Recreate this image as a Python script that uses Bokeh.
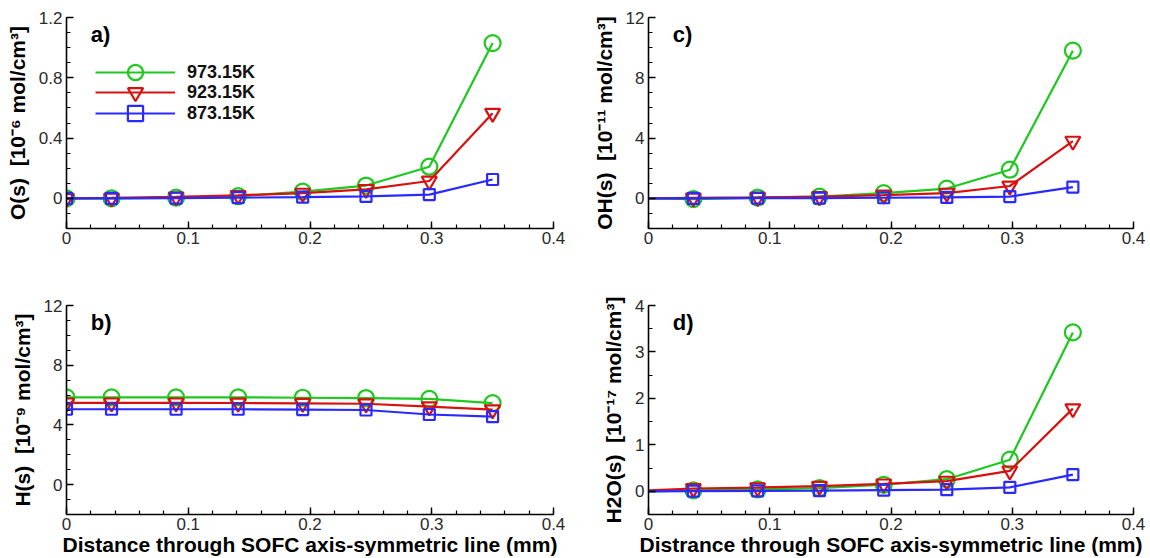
from bokeh.plotting import figure
from bokeh.layouts import column, row
from bokeh.models import FixedTicker, Legend, LegendItem, Label, Range1d
from bokeh.embed import file_html
from bokeh.resources import INLINE

# ---------------- data ----------------
x = [0, 0.037, 0.09, 0.141, 0.194, 0.246, 0.298, 0.35]
series_names = ["973.15K", "923.15K", "873.15K"]

o_973 = [0, 0, 0.005, 0.015, 0.045, 0.085, 0.21, 1.03]
o_923 = [0, 0.003, 0.01, 0.02, 0.035, 0.06, 0.115, 0.565]
o_873 = [0, 0, 0.002, 0.005, 0.008, 0.013, 0.025, 0.125]

oh_973 = [0, -0.05, 0.05, 0.12, 0.35, 0.65, 1.9, 9.8]
oh_923 = [0, 0.03, 0.07, 0.12, 0.22, 0.35, 0.82, 3.8]
oh_873 = [0, 0, 0.01, 0.02, 0.04, 0.06, 0.12, 0.75]

h_973 = [5.85, 5.85, 5.85, 5.85, 5.82, 5.8, 5.74, 5.46]
h_923 = [5.48, 5.48, 5.48, 5.47, 5.45, 5.42, 5.22, 5.02]
h_873 = [5.05, 5.05, 5.05, 5.05, 5.03, 5.0, 4.7, 4.55]

h2o_973 = [0, 0.02, 0.04, 0.07, 0.14, 0.26, 0.68, 3.42]
h2o_923 = [0.02, 0.06, 0.08, 0.11, 0.16, 0.22, 0.44, 1.78]
h2o_873 = [0, 0.005, 0.01, 0.015, 0.025, 0.035, 0.085, 0.36]

x_ticks = [0, 0.1, 0.2, 0.3, 0.4]
x_tick_labels = ["0", "0.1", "0.2", "0.3", "0.4"]
x_minor = [round(i * 0.02, 2) for i in range(21)]

o_ticks = [0, 0.4, 0.8, 1.2]
o_tick_labels = ["0", "0.4", "0.8", "1.2"]
o_minor = [round(-0.2 + i * 0.1, 1) for i in range(15)]

oh_ticks = [0, 4, 8, 12]
oh_tick_labels = ["0", "4", "8", "12"]
oh_minor = list(range(-2, 13))

h_ticks = [0, 4, 8, 12]
h_tick_labels = ["0", "4", "8", "12"]
h_minor = list(range(-2, 13))

h2o_ticks = [0, 1, 2, 3, 4]
h2o_tick_labels = ["0", "1", "2", "3", "4"]
h2o_minor = [-0.5 + 0.5 * i for i in range(10)]

# ---------------- style ----------------
COLORS = ["#1ec81e", "#d81010", "#2a2aff"]
MARKERS = ["circle", "inverted_triangle", "square"]
MSIZES = [16, 15, 11]
FONT = "Liberation Sans"
NB = "\u00a0"
LEGEND_Y = [137, 117, 96]


def make_panel(ys, ylabel, yrange, yticks, ylabels, yminor, letter, xlabel,
               marker_start, borders, legend=False):
    left, right, top, bottom = borders
    p = figure(width=575, height=279, output_backend="svg", toolbar_location=None,
               x_range=Range1d(0, 0.4), y_range=Range1d(*yrange),
               min_border_left=left, min_border_right=right,
               min_border_top=top, min_border_bottom=bottom)
    p.outline_line_color = None
    p.grid.visible = False
    p.background_fill_color = "white"
    p.border_fill_color = "white"

    for ax, ticks, labels, minor in ((p.xaxis[0], x_ticks, x_tick_labels, x_minor),
                                     (p.yaxis[0], yticks, ylabels, yminor)):
        ax.ticker = FixedTicker(ticks=ticks, minor_ticks=minor)
        ax.major_label_overrides = {t: l for t, l in zip(ticks, labels)}
        ax.axis_line_color = "black"
        ax.axis_line_width = 1.6
        ax.major_tick_line_color = "black"
        ax.major_tick_line_width = 1.4
        ax.minor_tick_line_color = "black"
        ax.minor_tick_line_width = 1.2
        ax.major_tick_in = 7
        ax.major_tick_out = 0
        ax.minor_tick_in = 4
        ax.minor_tick_out = 0
        ax.major_label_text_font = FONT
        ax.major_label_text_font_size = "17px"
        ax.major_label_text_color = "#2a2a2a"
        ax.axis_label_text_font = FONT
        ax.axis_label_text_font_style = "bold"
        ax.axis_label_text_font_size = "21px"
        ax.axis_label_text_color = "black"

    p.yaxis.major_label_standoff = 4
    p.yaxis.axis_label_standoff = 7
    p.yaxis.axis_label = ylabel
    p.xaxis.major_label_standoff = 3
    if xlabel:
        p.xaxis.axis_label = xlabel
        p.xaxis.axis_label_standoff = 0

    items = []
    for yv, name, c, m, s in zip(ys, series_names, COLORS, MARKERS, MSIZES):
        ln = p.line(x, yv, line_color=c, line_width=2.2)
        sc = p.scatter(x[marker_start:], yv[marker_start:], marker=m, size=s,
                       fill_color=None, line_color=c, line_width=2.2)
        items.append(LegendItem(label=name, renderers=[ln, sc]))

    if legend:
        for item, ly in zip(items, LEGEND_Y):
            lg = Legend(items=[item], location=(29, ly), glyph_width=80, glyph_height=38,
                        spacing=0, label_standoff=12, padding=0, margin=0,
                        border_line_alpha=0, background_fill_alpha=0,
                        label_text_font=FONT, label_text_font_size="18px",
                        label_text_font_style="bold", label_text_color="#111111")
            p.add_layout(lg)

    y0, y1 = yrange
    p.add_layout(Label(x=0.4 * 0.05, y=y1 - 0.02 * (y1 - y0), text=letter,
                       text_font=FONT, text_font_size="22px", text_font_style="bold",
                       text_baseline="top", text_align="left", text_color="black"))
    return p


pa = make_panel([o_973, o_923, o_873], "O(s)" + NB + " [10\u207b\u2076 mol/cm\u00b3]",
                (-0.2, 1.2), o_ticks, o_tick_labels, o_minor, "a)", None, 0,
                (66, 22, 17, 51), legend=True)
pc = make_panel([oh_973, oh_923, oh_873], "OH(s)" + NB + " [10\u207b\u00b9\u00b9 mol/cm\u00b3]",
                (-2, 12), oh_ticks, oh_tick_labels, oh_minor, "c)", None, 1,
                (73, 17, 17, 51))
pb = make_panel([h_973, h_923, h_873], "H(s)" + NB + " [10\u207b\u2079 mol/cm\u00b3]",
                (-2, 12), h_ticks, h_tick_labels, h_minor, "b)",
                "Distance through SOFC axis-symmetric line (mm)", 0,
                (66, 22, 26, 44))
pd = make_panel([h2o_973, h2o_923, h2o_873], "H2O(s)" + NB + " [10\u207b\u00b9\u2077 mol/cm\u00b3]",
                (-0.5, 4), h2o_ticks, h2o_tick_labels, h2o_minor, "d)",
                "Distrance through SOFC axis-symmetric line (mm)", 1,
                (73, 17, 26, 44))

layout = column(row(pa, pc), row(pb, pd))
open("out.html", "w").write(file_html(layout, INLINE))
